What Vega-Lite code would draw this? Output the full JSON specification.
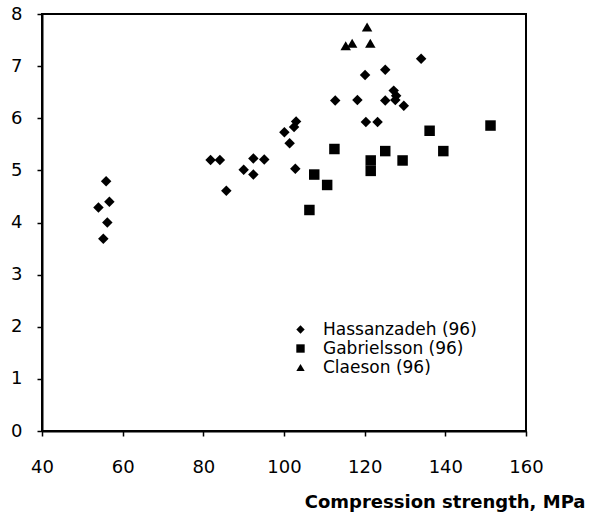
{
  "$schema": "https://vega.github.io/schema/vega-lite/v6.json",
  "autosize": {"type": "none"},
  "padding": {"left": 42, "top": 14, "right": 63, "bottom": 81},
  "width": 484,
  "height": 417,
  "background": "white",
  "config": {
    "font": "DejaVu Sans",
    "view": {"stroke": "black", "strokeWidth": 2},
    "axis": {"grid": false, "labelFlush": false, "domainColor": "black", "domainWidth": 2, "tickColor": "black", "tickWidth": 1.5, "tickSize": 5, "labelColor": "black", "labelFont": "DejaVu Sans", "labelFontSize": 18, "labelFontWeight": "normal"}
  },
  "data": {
    "values": [
      {"study": "Hassanzadeh (96)", "strength": 54.0, "value": 4.29},
      {"study": "Hassanzadeh (96)", "strength": 55.9, "value": 4.79},
      {"study": "Hassanzadeh (96)", "strength": 56.7, "value": 4.40},
      {"study": "Hassanzadeh (96)", "strength": 56.2, "value": 4.00},
      {"study": "Hassanzadeh (96)", "strength": 55.2, "value": 3.69},
      {"study": "Hassanzadeh (96)", "strength": 81.8, "value": 5.20},
      {"study": "Hassanzadeh (96)", "strength": 84.1, "value": 5.20},
      {"study": "Hassanzadeh (96)", "strength": 85.7, "value": 4.61},
      {"study": "Hassanzadeh (96)", "strength": 90.0, "value": 5.01},
      {"study": "Hassanzadeh (96)", "strength": 92.4, "value": 5.23},
      {"study": "Hassanzadeh (96)", "strength": 92.4, "value": 4.92},
      {"study": "Hassanzadeh (96)", "strength": 95.1, "value": 5.21},
      {"study": "Hassanzadeh (96)", "strength": 100.1, "value": 5.73},
      {"study": "Hassanzadeh (96)", "strength": 101.4, "value": 5.52},
      {"study": "Hassanzadeh (96)", "strength": 102.5, "value": 5.83},
      {"study": "Hassanzadeh (96)", "strength": 103.0, "value": 5.94},
      {"study": "Hassanzadeh (96)", "strength": 102.8, "value": 5.03},
      {"study": "Hassanzadeh (96)", "strength": 112.7, "value": 6.34},
      {"study": "Hassanzadeh (96)", "strength": 118.2, "value": 6.35},
      {"study": "Hassanzadeh (96)", "strength": 120.1, "value": 6.83},
      {"study": "Hassanzadeh (96)", "strength": 125.1, "value": 6.93},
      {"study": "Hassanzadeh (96)", "strength": 134.0, "value": 7.14},
      {"study": "Hassanzadeh (96)", "strength": 120.3, "value": 5.93},
      {"study": "Hassanzadeh (96)", "strength": 123.2, "value": 5.93},
      {"study": "Hassanzadeh (96)", "strength": 125.1, "value": 6.34},
      {"study": "Hassanzadeh (96)", "strength": 127.2, "value": 6.53},
      {"study": "Hassanzadeh (96)", "strength": 127.8, "value": 6.43},
      {"study": "Hassanzadeh (96)", "strength": 127.6, "value": 6.35},
      {"study": "Hassanzadeh (96)", "strength": 129.7, "value": 6.24},
      {"study": "Gabrielsson (96)", "strength": 106.3, "value": 4.24},
      {"study": "Gabrielsson (96)", "strength": 107.5, "value": 4.92},
      {"study": "Gabrielsson (96)", "strength": 110.7, "value": 4.72},
      {"study": "Gabrielsson (96)", "strength": 112.5, "value": 5.41},
      {"study": "Gabrielsson (96)", "strength": 121.5, "value": 5.19},
      {"study": "Gabrielsson (96)", "strength": 121.5, "value": 4.99},
      {"study": "Gabrielsson (96)", "strength": 125.1, "value": 5.37},
      {"study": "Gabrielsson (96)", "strength": 129.4, "value": 5.19},
      {"study": "Gabrielsson (96)", "strength": 136.1, "value": 5.76},
      {"study": "Gabrielsson (96)", "strength": 139.5, "value": 5.37},
      {"study": "Gabrielsson (96)", "strength": 151.2, "value": 5.86},
      {"study": "Claeson (96)", "strength": 120.6, "value": 7.75},
      {"study": "Claeson (96)", "strength": 115.3, "value": 7.39},
      {"study": "Claeson (96)", "strength": 116.9, "value": 7.44},
      {"study": "Claeson (96)", "strength": 121.4, "value": 7.44}
    ]
  },
  "mark": {"type": "point", "filled": true, "opacity": 1, "color": "black", "size": 110},
  "encoding": {
    "x": {
      "field": "strength", "type": "quantitative",
      "scale": {"domain": [40, 160], "nice": false, "zero": false},
      "axis": {"values": [40, 60, 80, 100, 120, 140, 160], "labelPadding": 22, "title": "Compression strength, MPa", "titleFont": "DejaVu Sans", "titleFontSize": 18, "titleFontWeight": "bold", "titleColor": "black", "titleX": 543, "titleY": 76, "titleAlign": "right", "titleBaseline": "alphabetic", "titleAnchor": "end"}
    },
    "y": {
      "field": "value", "type": "quantitative",
      "scale": {"domain": [0, 8], "nice": false},
      "axis": {"values": [0, 1, 2, 3, 4, 5, 6, 7, 8], "labelPadding": 15, "title": null}
    },
    "shape": {
      "field": "study", "type": "nominal",
      "scale": {"domain": ["Hassanzadeh (96)", "Gabrielsson (96)", "Claeson (96)"], "range": ["diamond", "square", "triangle-up"]},
      "legend": {"title": null, "orient": "none", "legendX": 250, "legendY": 307, "padding": 0, "labelFont": "DejaVu Sans", "labelFontSize": 17, "labelColor": "black", "labelOffset": 14, "rowPadding": 1, "symbolSize": 70, "symbolFillColor": "black", "symbolStrokeColor": "black", "symbolType": "diamond"}
    }
  }
}
